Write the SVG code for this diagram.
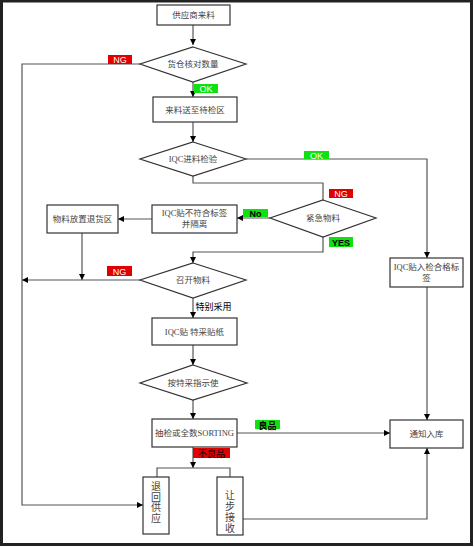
<svg xmlns="http://www.w3.org/2000/svg" width="474" height="547" viewBox="0 0 474 547">
<style>
.box{fill:#fff;stroke:#333;stroke-width:1.2}
.dia{fill:#fff;stroke:#333;stroke-width:1.2}
.t{font-family:"Liberation Serif","Noto Sans CJK SC",serif;font-size:8.5px;fill:#444;text-anchor:middle}
.tv{font-family:"Liberation Serif","Noto Sans CJK SC",serif;font-size:10px;fill:#444;text-anchor:middle}
.ln{fill:none;stroke:#555;stroke-width:1.2}
.lr{fill:#e00000}
.lg{fill:#10e010}
.lt{font-family:"Liberation Sans","Noto Sans CJK SC",sans-serif;font-size:9px;text-anchor:middle}
.w{fill:#fff}
.k{fill:#000;font-weight:bold}
</style>
<defs>
<marker id="ah" viewBox="0 0 8 8" refX="8" refY="4" markerWidth="6" markerHeight="6" markerUnits="userSpaceOnUse" orient="auto">
<path d="M0,0 L8,4 L0,8 Z" fill="#000"/>
</marker>
</defs>
<rect x="0" y="0" width="474" height="547" fill="#fff"/>
<g id="frame">
<rect x="1.5" y="1" width="470" height="543.5" fill="none" stroke="#222" stroke-width="3"/>
</g>
<g id="connectors">
<path class="ln" d="M193,25 V45" marker-end="url(#ah)"/>
<path class="ln" d="M193,82 V97" marker-end="url(#ah)"/>
<path class="ln" d="M193,122 V142" marker-end="url(#ah)"/>
<path class="ln" d="M246,159 H427 V258" marker-end="url(#ah)"/>
<path class="ln" d="M427,287 V420" marker-end="url(#ah)"/>
<path class="ln" d="M193,176 V183 H323 V200"/>
<path class="ln" d="M270,218 H237" marker-end="url(#ah)"/>
<path class="ln" d="M152,219 H118" marker-end="url(#ah)"/>
<path class="ln" d="M323,237 V252 H193 V263" marker-end="url(#ah)"/>
<path class="ln" d="M82,233 V280" marker-end="url(#ah)"/>
<path class="ln" d="M140,280 H22" marker-end="url(#ah)"/>
<path class="ln" d="M140,64 H22 V505 H143" marker-end="url(#ah)"/>
<path class="ln" d="M193,298 V318" marker-end="url(#ah)"/>
<path class="ln" d="M193,345 V365" marker-end="url(#ah)"/>
<path class="ln" d="M193,400 V419" marker-end="url(#ah)"/>
<path class="ln" d="M237,433 H390" marker-end="url(#ah)"/>
<path class="ln" d="M193,447 V468" marker-end="url(#ah)"/>
<path class="ln" d="M157,477 V468 H230 V477"/>
<path class="ln" d="M243,519 H427 V448" marker-end="url(#ah)"/>
</g>
<g id="labels">
<rect class="lr" x="108" y="55" width="24" height="9"/><text class="lt w" x="120" y="63">NG</text>
<rect class="lg" x="194" y="84" width="24" height="9"/><text class="lt w" x="206" y="92">OK</text>
<rect class="lg" x="304" y="151" width="25" height="8"/><text class="lt w" x="316.5" y="158.5">OK</text>
<rect class="lr" x="329" y="189" width="24" height="9"/><text class="lt w" x="341" y="197">NG</text>
<rect class="lg" x="243" y="209" width="25" height="8"/><text class="lt k" x="255.5" y="216.5">No</text>
<rect class="lg" x="329" y="237" width="24" height="10"/><text class="lt k" x="341" y="245.5">YES</text>
<rect class="lr" x="107" y="266" width="25" height="10"/><text class="lt w" x="119.5" y="274.5">NG</text>
<text class="lt" x="213.5" y="310" fill="#000">特别采用</text>
<rect class="lg" x="255" y="420" width="25" height="9"/><text class="lt k" x="267.5" y="428.5">良品</text>
<rect class="lr" x="193" y="448" width="37" height="10"/><text class="lt" x="211.5" y="456.5" fill="#000">不良品</text>
</g>
<g id="n1"><rect class="box" x="157" y="5" width="73" height="20"/><text class="t" x="193.5" y="18">供应商来料</text></g>
<g id="n2"><polygon class="dia" points="193,47 246,64 193,82 140,64"/><text class="t" x="193" y="67">货仓核对数量</text></g>
<g id="n3"><rect class="box" x="153" y="97" width="84" height="25"/><text class="t" x="195" y="112.5">来料送至待检区</text></g>
<g id="n4"><polygon class="dia" points="193,142 246,159 193,176 140,159"/><text class="t" x="193" y="162">IQC进料检验</text></g>
<g id="n5"><rect class="box" x="390" y="258" width="73" height="29"/><text class="t" x="426.5" y="270">IQC贴入检合格标</text><text class="t" x="426.5" y="281">签</text></g>
<g id="n6"><polygon class="dia" points="323,200 376,218 323,237 270,218"/><text class="t" x="323" y="221">紧急物料</text></g>
<g id="n7"><rect class="box" x="152" y="205" width="85" height="28"/><text class="t" x="194.5" y="216">IQC贴不符合标签</text><text class="t" x="194.5" y="227">并隔离</text></g>
<g id="n8"><rect class="box" x="47" y="205" width="71" height="28"/><text class="t" x="82.5" y="222">物料放置退货区</text></g>
<g id="n9"><polygon class="dia" points="193,263 246,280 193,298 140,280"/><text class="t" x="193" y="283">召开物料</text></g>
<g id="n10"><rect class="box" x="152" y="318" width="85" height="27"/><text class="t" x="194.5" y="334.5">IQC贴 特采贴纸</text></g>
<g id="n11"><polygon class="dia" points="193,365 247,383 193,400 140,383"/><text class="t" x="193" y="386">按特采指示使</text></g>
<g id="n12"><rect class="box" x="152" y="419" width="85" height="28"/><text class="t" x="194.5" y="436">抽检或全数SORTING</text></g>
<g id="n13"><rect class="box" x="390" y="420" width="73" height="28"/><text class="t" x="426.5" y="437">通知入库</text></g>
<g id="n14"><rect class="box" x="143" y="477" width="26" height="57"/><text class="tv" x="156" y="490">退</text><text class="tv" x="156" y="500.5">回</text><text class="tv" x="156" y="511">供</text><text class="tv" x="156" y="521.5">应</text></g>
<g id="n15"><rect class="box" x="217" y="477" width="26" height="58"/><text class="tv" x="230" y="499">让</text><text class="tv" x="230" y="510">步</text><text class="tv" x="230" y="521">接</text><text class="tv" x="230" y="532">收</text></g>
</svg>
